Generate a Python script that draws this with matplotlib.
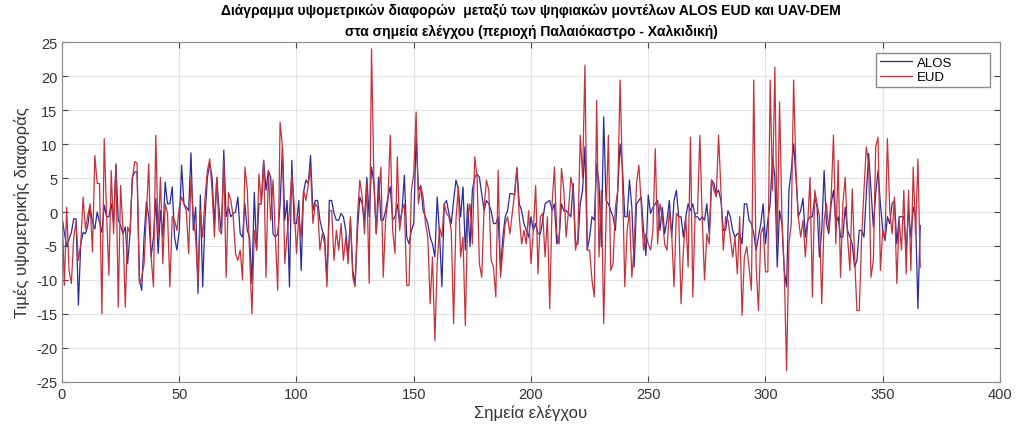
import numpy as np
import matplotlib.pyplot as plt

plt.rcParams['font.family'] = ['Liberation Sans', 'DejaVu Sans']
plt.rcParams['axes.unicode_minus'] = False

# υψομετρικές διαφορές στα σημεία ελέγχου (τιμές από το διάγραμμα)
eud = [
    0.6, -10.8, 0.7, -8.6, -10.5, -3.7, -1.5, -7.1, -4.7, 2.2,
    -2.5, -0.5, 1.2, -5.9, 8.3, 4.2, 4.2, -15.0, 10.8, -0.2,
    -9.3, 6.1, -3.2, 7.1, -14.0, 3.9, -2.7, -14.0, -2.2, -3.2,
    4.9, 7.4, 7.2, -10.5, -9.6, -7.6, -0.2, 7.1, -6.6, -11.0,
    11.3, -3.7, 5.1, -7.6, 1.2, -0.2, -11.0, -0.7, -1.2, -2.7,
    0.7, 2.2, 1.2, 0.2, -6.1, 5.1, -0.7, -3.7, -10.5, 0.2,
    -3.7, 2.2, 6.1, 7.8, 3.2, -3.7, 5.1, -2.7, -3.2, 7.6,
    -9.6, 2.9, 1.7, -0.7, -6.1, -7.1, -5.6, -10.0, 6.6, 3.4,
    -6.1, -15.0, -2.7, -5.6, 5.6, 1.2, 7.6, -9.6, 6.1, -1.2,
    4.7, -3.7, -11.5, 13.2, 9.6, -7.6, -3.2, 0.2, 5.6, 1.2,
    -6.1, -0.7, -3.7, 3.2, 1.7, 3.9, 6.6, -1.7, 1.2, 0.7,
    -5.6, -3.2, -4.7, -11.0, 0.2, 0.2, -7.1, -2.7, -5.6, -1.7,
    -7.1, -3.7, -7.6, -0.7, -9.6, -11.0, -0.7, 4.7, 2.2, -3.2,
    4.2, -10.5, 24.0, 5.1, -3.2, 2.0, 6.6, -9.6, -1.2, 1.7,
    11.3, -2.7, -6.1, 8.1, -2.7, 0.2, 1.2, -10.8, -10.8, 3.2,
    5.6, 14.7, 1.2, 3.7, 2.2, -1.7, -3.7, -13.5, -6.6, -18.9,
    -7.6, -2.2, -3.7, 1.2, -0.2, -0.7, -2.7, -16.4, -1.2, 3.7,
    -6.6, -3.7, -16.7, -0.7, 1.2, -4.7, 8.1, 5.1, -7.6, -9.6,
    0.7, 4.7, 3.2, -7.1, -8.1, -12.5, 6.1, -9.6, -5.6, -1.7,
    -0.7, -3.2, -0.2, 2.7, 6.6, -0.7, -4.7, -2.7, -4.7, 0.2,
    -7.6, -2.7, 3.9, -9.1, -0.7, -0.2, -6.6, -0.7, -14.2, 1.2,
    6.6, -3.2, -4.7, 6.4, 3.2, -3.7, 0.2, 5.1, 3.2, -5.6,
    -3.7, 11.3, 5.1, 21.6, -5.6, -5.6, -10.0, -12.5, 16.4, -6.6,
    3.2, -16.4, -1.2, 11.3, -8.6, -7.6, 0.7, 3.2, 19.4, 5.1,
    -11.0, -2.7, 0.2, -9.6, -5.1, 4.2, 6.9, 1.2, -5.6, -3.2,
    -4.7, -5.6, -2.7, 9.3, -4.7, 1.2, -0.7, -4.7, -5.6, 0.2,
    -3.2, -11.0, -0.2, -0.7, -13.5, -5.6, -0.7, -8.1, 11.0, -12.5,
    -0.2, -0.2, 11.3, -0.7, -10.0, -3.2, -4.7, 4.7, 3.2, 2.2,
    11.3, 3.2, -5.6, -0.7, -1.2, -3.7, -6.6, -3.7, -9.1, -0.7,
    -15.2, -6.6, -5.1, -8.1, -11.5, 19.4, -7.6, -14.5, -3.2, -2.2,
    -8.8, -8.8, 19.4, 3.2, 21.3, -4.7, 16.2, -0.7, -8.6, -23.3,
    -4.7, -1.7, 19.4, 6.1, -0.7, -3.7, -1.2, -6.6, -1.7, 5.1,
    -12.5, 3.2, 1.2, -0.7, -13.5, -1.2, 1.2, -2.7, 2.2, 11.3,
    -4.7, 7.6, -9.6, 1.2, 5.1, -3.7, -8.6, 3.4, -6.6, -14.5,
    -14.5, -3.7, 3.2, 9.6, 7.1, -9.6, -7.1, 9.6, 11.0, -8.6,
    -2.7, -3.7, 10.8, 0.2, -3.2, 2.2, -10.5, -1.2, -5.6, 3.2,
    -9.1, 3.2, -8.6, 6.6, -3.2, 7.8, -8.1,
]

alos = [
    -0.7, -3.0, -5.1, -4.0, -3.0, -1.0, -1.0, -13.7, -4.7, -3.0,
    -3.2, -2.0, 0.7, -1.5, -2.5, 0.0, -1.5, -3.0, 1.0, -0.7,
    -0.7, 1.2, -1.7, 6.9, -1.2, -2.0, -3.2, -2.2, -7.6, -3.2,
    5.1, 5.9, 5.9, -10.0, -11.5, -3.7, 1.5, -0.7, -6.6, -3.7,
    2.0, -6.1, 0.2, -3.7, 4.4, 1.2, 1.2, 3.7, -3.7, -5.6,
    -2.7, 6.9, 1.2, 0.7, 0.2, 8.7, -2.7, 0.7, -12.0, 2.5,
    -11.0, -0.7, 5.1, 7.1, 5.1, -1.7, 5.1, 0.2, -3.2, 9.1,
    -0.7, 0.7, -0.7, -0.2, 0.0, 2.2, -3.2, -3.7, 1.2, -2.7,
    -3.7, -10.5, 2.9, -5.6, 1.2, 1.2, 7.6, 3.2, 6.1, 5.1,
    -3.2, -3.7, -3.2, 1.0, 9.6, -1.2, 1.7, -11.0, 7.6, -1.7,
    -1.7, 1.7, -8.6, 2.9, 4.7, 4.2, 8.3, 0.2, 1.7, 1.7,
    -1.2, -2.7, -3.7, -10.0, 1.7, 1.7, -0.2, -1.2, -1.2, -0.2,
    -0.7, -2.7, -6.6, -1.2, -8.6, -10.5, -2.7, 2.2, 1.2, -1.2,
    5.1, -0.7, 6.6, 4.2, -3.2, 5.1, -1.2, -1.2, 0.2, 2.2,
    3.7, -1.2, -0.7, 1.2, -1.7, 0.2, 5.4, -3.7, -4.7, -2.7,
    -1.7, 11.0, 3.2, 3.9, 0.2, -0.7, -1.7, -3.7, -4.7, -6.6,
    2.2, -3.2, -11.0, 1.2, 1.7, -0.2, -1.7, 1.7, 4.7, 3.4,
    -0.7, 3.7, -5.6, 1.2, -5.1, 3.2, 5.1, 5.6, 5.1, 2.7,
    0.2, 1.7, 1.2, 0.2, -1.7, -1.7, -0.7, -8.6, -3.7, -0.7,
    0.2, 2.7, 2.7, 2.5, 6.4, 1.2, 0.2, -1.7, -2.7, -3.7,
    -0.7, -2.7, -1.7, -3.2, -3.2, -1.2, 1.2, 1.5, 1.7, 0.2,
    1.2, -4.7, -3.7, 1.2, 0.2, 0.2, -0.2, -0.7, 4.2, -4.7,
    -4.7, 1.2, 3.2, 9.6, -5.6, -3.7, -0.7, -1.2, 7.1, 4.2,
    -5.1, 14.0, 1.7, 1.2, 0.2, -0.7, -2.7, 3.2, 10.0, 6.6,
    -0.7, -0.7, 4.7, 0.7, -8.1, 1.2, 1.7, 2.2, -2.7, -6.4,
    2.5, -0.2, 0.7, 1.2, 1.7, -2.7, 0.7, -3.2, -1.2, 1.7,
    -3.7, 1.7, 3.2, -0.7, -0.7, -3.7, -0.7, 1.2, 0.2, 1.2,
    -0.7, -0.7, -1.2, -0.7, -1.2, 1.2, -3.2, 4.7, 4.2, 2.7,
    3.2, 1.7, -2.7, -2.7, 0.2, -0.7, -2.7, -3.7, -3.2, -3.2,
    -4.7, 1.2, 1.2, -1.2, -1.7, -3.2, -5.6, -3.7, -1.7, 1.2,
    -4.7, -1.2, 1.2, 8.1, 5.1, -8.1, 0.2, -1.7, -8.6, -11.0,
    3.2, 6.1, 10.0, 5.1, -0.7, 0.2, 2.0, -3.7, -1.2, -0.7,
    -0.7, 2.2, 0.7, -6.6, -2.7, 6.1, -1.7, -3.2, 1.2, 3.2,
    -1.7, -0.7, -3.7, -3.7, 0.7, -2.7, -3.7, -4.7, -8.1, -7.1,
    -2.7, -2.7, -3.7, 2.7, 8.6, 3.2, -2.2, 2.7, 6.1, 1.2,
    -2.7, -4.2, -0.7, -1.7, 1.2, 1.7, -4.7, -0.7, -0.7, -0.7,
    -5.6, 0.2, -3.7, 0.7, -0.7, -14.2, -2.0,
]

points = np.arange(len(eud))

fig = plt.figure(figsize=(10.23, 4.31), dpi=100)
ax = fig.add_axes([0.0606, 0.1114, 0.9169, 0.7888])

ax.plot(points, alos, color='#2a2a9c', lw=0.9, label='ALOS')
ax.plot(points, eud, color='#c4323c', lw=0.9, label='EUD')

ax.set_xlim(0, 400)
ax.set_ylim(-25, 25)
ax.set_xticks(np.arange(0, 401, 50))
ax.set_yticks(np.arange(-25, 26, 5))
ax.grid(True, color='#e3e3e3', lw=0.8)
ax.set_axisbelow(True)
ax.tick_params(direction='in', top=True, right=True, length=4,
               labelsize=10.5, colors='#444444', labelcolor='#333333')
for s in ax.spines.values():
    s.set_color('#8a8a8a')

ax.set_xlabel('Σημεία ελέγχου', fontsize=12, color='#333333', labelpad=2)
ax.set_ylabel('Τιμές υψομετρικής διαφοράς', fontsize=12, color='#333333', labelpad=4)
ax.set_title('Διάγραμμα υψομετρικών διαφορών  μεταξύ των ψηφιακών μοντέλων ALOS EUD και UAV-DEM\n'
             'στα σημεία ελέγχου (περιοχή Παλαιόκαστρο - Χαλκιδική)',
             fontsize=10, fontweight='bold', pad=5, linespacing=1.6)

# legend box a bit wider than its contents, like the original
ax.legend(loc='upper left', bbox_to_anchor=(0.868, 0.868, 0.121, 0.1),
          mode='expand', borderaxespad=0,
          fontsize=9.5, handlelength=2.4, handletextpad=0.4, fancybox=False,
          framealpha=1, edgecolor='#8a8a8a', borderpad=0.3, labelspacing=0.15)
fig.savefig('out.png', dpi=100)
